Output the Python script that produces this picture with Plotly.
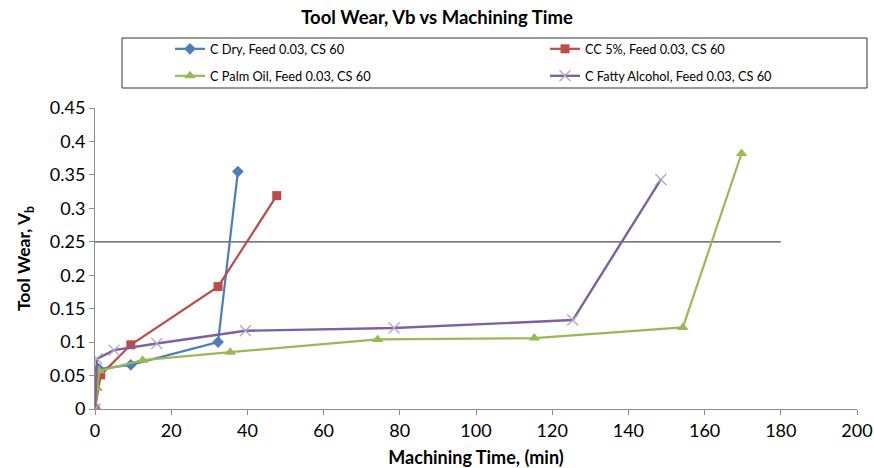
import plotly.graph_objects as go

# Data
dry_x = [0, 1, 9.4, 32.3, 37.5]
dry_y = [0, 0.06, 0.066, 0.10, 0.355]

cc_x = [0, 1.5, 9.4, 32.3, 47.7]
cc_y = [0, 0.051, 0.096, 0.183, 0.319]

palm_x = [0, 0.6, 1.1, 12.5, 35.5, 74.2, 115.3, 154.3, 169.7]
palm_y = [0, 0.031, 0.057, 0.073, 0.085, 0.104, 0.106, 0.122, 0.382]

fatty_x = [0, 0.5, 5, 16.2, 39.5, 78.5, 125.4, 148.5]
fatty_y = [0, 0.075, 0.088, 0.098, 0.117, 0.121, 0.133, 0.343]

limit_x = [0, 180]
limit_y = [0.25, 0.25]

names = ["C Dry, Feed 0.03, CS 60", "CC 5%, Feed 0.03, CS 60",
         "C Palm Oil, Feed 0.03, CS 60", "C Fatty Alcohol, Feed 0.03, CS 60"]

x_ticks = list(range(0, 201, 20))
y_ticks = [0, 0.05, 0.1, 0.15, 0.2, 0.25, 0.3, 0.35, 0.4, 0.45]
y_tick_text = ["0", "0.05", "0.1", "0.15", "0.2", "0.25", "0.3", "0.35", "0.4", "0.45"]

FONT = "Lato"
W, H = 874, 468
L, R, T, B = 95, 17, 108, 59
PW, PH = W - L - R, H - T - B

fig = go.Figure()
fig.add_trace(go.Scatter(x=limit_x, y=limit_y, mode="lines", showlegend=False,
                         line=dict(color="#4d4d4d", width=1.2), hoverinfo="skip"))
fig.add_trace(go.Scatter(x=dry_x, y=dry_y, name=names[0], mode="lines+markers", legend="legend",
                         line=dict(color="#4A7EBB", width=2.2),
                         marker=dict(symbol="diamond", size=9, color="#4A7EBB")))
fig.add_trace(go.Scatter(x=cc_x, y=cc_y, name=names[1], mode="lines+markers", legend="legend",
                         line=dict(color="#BE4B48", width=2.2),
                         marker=dict(symbol="square", size=9, color="#BE4B48")))
fig.add_trace(go.Scatter(x=palm_x, y=palm_y, name=names[2], mode="lines+markers", legend="legend2",
                         line=dict(color="#98B954", width=2.2),
                         marker=dict(symbol="triangle-up", size=10, color="#98B954")))
fig.add_trace(go.Scatter(x=fatty_x, y=fatty_y, name=names[3], mode="lines+markers", legend="legend2",
                         line=dict(color="#7D60A0", width=2.4),
                         marker=dict(symbol="x-thin", size=11, color="#B3A6C8",
                                     line=dict(color="#B3A6C8", width=1.3))))

leg_common = dict(orientation="h", xref="container", yref="container",
                  xanchor="left", yanchor="top", entrywidth=330, entrywidthmode="pixels",
                  borderwidth=0, bgcolor="rgba(0,0,0,0)",
                  font=dict(size=12.8, family=FONT))

fig.update_layout(
    width=W, height=H,
    margin=dict(l=L, r=R, t=T, b=B),
    paper_bgcolor="white", plot_bgcolor="white",
    font=dict(family=FONT, color="black"),
    title=dict(text="<b>Tool Wear, Vb vs Machining Time</b>", x=0.5, xanchor="center",
               y=1 - 18 / H, yanchor="middle", font=dict(size=18.5, family=FONT)),
    legend=dict(x=170 / W, y=1 - 34 / H, **leg_common),
    legend2=dict(x=170 / W, y=1 - 61 / H, **leg_common),
    shapes=[dict(type="rect", xref="paper", yref="paper",
                 x0=(122 - L) / PW, x1=(867 - L) / PW,
                 y0=(H - B - 88) / PH, y1=(H - B - 38) / PH,
                 line=dict(color="#333333", width=1))],
    xaxis=dict(range=[0, 200], tickvals=x_ticks, showgrid=False, zeroline=False,
               showline=True, linecolor="#8c8c8c", linewidth=1, automargin=False,
               ticks="outside", ticklen=5, tickcolor="#8c8c8c",
               tickfont=dict(size=18, family=FONT),
               title=dict(text="<b>Machining Time, (min)</b>", font=dict(size=18, family=FONT),
                          standoff=13)),
    yaxis=dict(range=[0, 0.45], tickvals=y_ticks, ticktext=y_tick_text, showgrid=False,
               zeroline=False, showline=True, linecolor="#8c8c8c", linewidth=1, automargin=False,
               ticks="outside", ticklen=5, tickcolor="#8c8c8c",
               tickfont=dict(size=18, family=FONT),
               title=dict(text="<b>Tool Wear, V<sub>b</sub></b>", font=dict(size=17.5, family=FONT),
                          standoff=14)),
)

fig.write_html("out.html", config={"displayModeBar": False},
               post_script="document.body.style.margin='0';")
